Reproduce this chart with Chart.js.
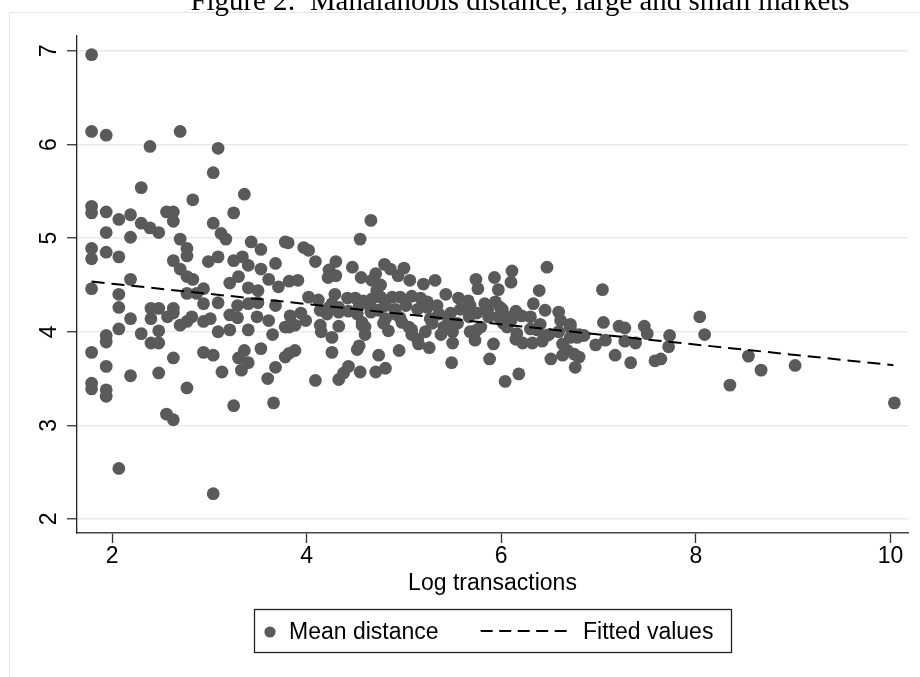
<!DOCTYPE html>
<html>
<head>
<meta charset="utf-8">
<script src="https://cdn.jsdelivr.net/npm/chart.js@4.4.1/dist/chart.umd.min.js"></script>
<style>
  html, body { margin: 0; padding: 0; background: #fff; }
  canvas { display: block; }
</style>
</head>
<body>
<canvas id="c" width="920" height="677"></canvas>
<script>
const titleText = 'Figure 2:  Mahalanobis distance, large and small markets';
const xAxisTitle = 'Log transactions';
const legendLabels = ['Mean distance', 'Fitted values'];
const xTicks = [2, 4, 6, 8, 10];
const yTicks = [2, 3, 4, 5, 6, 7];

const meanX = [
  1.79,1.79,1.79,1.79,1.79,1.79,1.79,1.79,1.79,1.79,
  1.94,1.94,1.94,1.94,1.94,1.94,1.94,1.94,1.94,
  2.07,2.07,2.07,2.07,2.07,2.07,
  2.19,2.19,2.30,2.30,2.39,2.39,2.48,2.56,2.63,2.63,2.70,2.70,2.77,2.77,2.83,2.63,2.70,
  3.04,3.09,3.04,3.12,3.17,3.25,3.36,3.43,3.53,3.68,3.78,2.99,3.09,3.25,3.34,3.40,3.53,
  2.19,2.19,2.30,2.40,2.40,2.48,2.40,2.48,2.48,2.19,2.48,2.63,2.57,2.63,2.70,2.77,2.82,2.63,2.77,2.56,2.63,3.04,
  2.77,2.83,2.77,2.87,2.94,2.94,3.09,2.94,3.01,3.09,2.94,3.04,3.13,3.21,3.30,3.40,3.50,3.50,3.29,3.21,3.29,3.40,3.49,3.21,3.40,3.61,3.65,3.53,3.36,3.30,3.40,3.33,3.60,3.68,3.78,3.25,3.66,3.61,3.71,3.68,3.82,3.78,3.83,3.88,
  3.81,3.97,4.02,4.09,4.30,4.23,4.30,4.22,3.91,4.47,4.55,4.66,4.56,4.67,4.71,4.80,4.86,5.00,4.94,5.06,4.76,4.72,5.20,5.32,5.74,5.93,5.76,5.97,
  4.02,4.12,4.29,4.26,4.42,4.50,4.58,4.67,4.76,4.88,4.96,5.08,5.17,5.24,5.43,5.56,5.66,5.83,5.94,6.01,
  3.94,3.99,3.82,3.88,4.14,4.15,4.21,4.33,4.33,4.26,4.43,4.52,4.57,4.60,4.60,4.66,4.81,4.84,4.91,4.96,5.05,5.08,5.14,5.15,5.26,5.22,5.29,5.36,5.38,5.46,5.50,5.50,5.67,5.68,5.75,5.73,5.87,5.92,5.88,5.97,6.02,
  4.26,4.52,4.54,4.74,4.95,5.49,4.09,4.33,4.38,4.43,4.55,4.71,4.81,6.04,
  6.11,6.10,6.47,6.39,5.99,6.15,6.10,6.21,6.30,6.33,6.45,6.59,6.61,6.71,6.40,6.30,6.80,6.85,6.71,6.49,6.15,6.32,6.42,6.22,6.63,6.68,6.80,6.76,6.63,6.51,6.18,
  7.04,7.05,6.97,7.07,7.17,7.21,7.27,7.27,7.38,7.33,7.47,7.50,7.58,7.64,7.73,7.72,8.04,8.09,8.54,8.67,8.35,9.02,10.04,
  5.68,5.34,6.75,6.78,
  4.14,4.23,4.33,4.54,4.66,4.74,4.81,4.91,5.02,5.14,5.24,
  4.57,4.79,4.98,5.08,3.82,
  5.48,5.58,5.75,5.86,6.06,5.27,
  5.41,5.55,5.79,6.06,6.16,6.37,6.47,6.59,6.71
];
const meanY = [
  6.96,6.14,5.34,5.27,4.89,4.78,4.46,3.78,3.45,3.39,
  6.10,5.28,5.06,4.85,3.96,3.89,3.63,3.38,3.31,
  5.20,4.80,4.40,4.26,4.03,2.54,
  5.25,5.01,5.54,5.16,5.98,5.11,5.06,5.28,5.28,5.18,6.14,4.99,4.89,4.81,5.41,4.76,4.67,
  5.70,5.96,5.16,5.05,4.99,5.27,5.47,4.96,4.88,4.73,4.96,4.75,4.80,4.76,4.80,4.71,4.67,
  4.56,4.14,3.98,4.25,4.14,4.25,3.88,4.01,3.88,3.53,3.56,4.25,4.16,4.20,4.07,4.11,4.16,3.72,3.40,3.12,3.06,2.27,
  4.59,4.56,4.41,4.41,4.46,4.30,4.31,4.11,4.14,4.00,3.78,3.75,3.57,4.52,4.59,4.47,4.44,4.31,4.28,4.18,4.15,4.30,4.16,4.02,4.02,4.12,3.97,3.82,3.80,3.72,3.67,3.59,3.50,3.62,3.73,3.21,3.24,4.56,4.48,4.28,4.54,4.05,4.17,3.80,
  4.95,4.90,4.87,4.75,4.75,4.66,4.60,4.58,4.55,4.69,4.99,5.19,4.58,4.55,4.62,4.72,4.67,4.68,4.60,4.55,4.50,4.44,4.51,4.55,4.56,4.58,4.46,4.45,
  4.37,4.34,4.40,4.30,4.36,4.36,4.33,4.35,4.37,4.37,4.37,4.38,4.36,4.32,4.40,4.36,4.33,4.30,4.32,4.24,
  4.20,4.12,4.05,4.07,4.07,4.00,4.19,4.21,4.06,3.94,4.22,4.19,4.10,4.05,3.97,4.21,4.14,4.01,4.19,4.15,4.05,3.97,3.92,3.87,3.83,4.00,4.09,4.19,3.97,4.12,3.88,4.00,4.16,4.00,4.02,3.91,4.16,3.87,3.71,4.16,4.09,
  3.78,3.81,3.85,3.75,3.80,3.67,3.48,3.49,3.56,3.63,3.57,3.57,3.61,3.47,
  4.65,4.53,4.69,4.44,4.26,4.22,4.12,4.17,4.16,4.30,4.23,4.21,4.12,4.08,4.08,4.03,3.97,3.96,3.94,3.97,3.92,3.88,3.90,3.88,3.87,3.80,3.73,3.62,3.75,3.71,3.55,
  4.45,4.10,3.86,3.91,3.75,4.06,4.04,3.90,3.88,3.67,4.06,3.98,3.69,3.71,3.96,3.84,4.16,3.97,3.74,3.59,3.43,3.64,3.24,
  4.28,4.28,3.76,3.94,
  4.23,4.26,4.26,4.28,4.26,4.23,4.28,4.24,4.28,4.24,4.26,
  4.07,4.09,4.10,4.02,3.77,
  4.20,4.24,4.20,4.23,4.16,4.14,
  4.05,4.09,4.05,4.05,3.98,4.02,3.96,4.00,4.04
];
const fitX = [1.79, 10.03];
const fitY = [4.536, 3.643];

const scatterPts = meanX.map((x, i) => ({ x: x, y: meanY[i] }));
const fitPts = fitX.map((x, i) => ({ x: x, y: fitY[i] }));

const SANS = '"Liberation Sans", Arial, Helvetica, sans-serif';
const MARK = '#5a5a5a';

const overlay = {
  id: 'overlay',
  afterDraw(chart) {
    const ctx = chart.ctx;
    const xs = chart.scales.x, ys = chart.scales.y;
    const ca = chart.chartArea;
    ctx.save();
    // outer light frame
    ctx.strokeStyle = '#e6e6e6';
    ctx.lineWidth = 1;
    ctx.beginPath();
    ctx.moveTo(9.5, 677); ctx.lineTo(9.5, 12.5); ctx.lineTo(920, 12.5);
    ctx.stroke();

    ctx.fillStyle = '#000';
    ctx.font = '23px ' + SANS;
    ctx.textAlign = 'center';
    ctx.textBaseline = 'alphabetic';
    xTicks.forEach(v => ctx.fillText(String(v), xs.getPixelForValue(v), ca.bottom + 30.3));
    yTicks.forEach(v => {
      ctx.save();
      ctx.translate(ca.left - 21.4, ys.getPixelForValue(v));
      ctx.rotate(-Math.PI / 2);
      ctx.fillText(String(v), 0, 0);
      ctx.restore();
    });
    ctx.fillText(xAxisTitle, (ca.left + ca.right) / 2, 590);

    // legend
    ctx.strokeStyle = '#222';
    ctx.lineWidth = 1.3;
    ctx.strokeRect(254.5, 609.5, 477, 43);
    ctx.fillStyle = MARK;
    ctx.beginPath(); ctx.arc(270, 632, 5.6, 0, Math.PI * 2); ctx.fill();
    ctx.fillStyle = '#000';
    ctx.textAlign = 'left';
    ctx.fillText(legendLabels[0], 289, 639.3);
    ctx.fillText(legendLabels[1], 583, 639.3);
    ctx.strokeStyle = '#000';
    ctx.lineWidth = 2;
    ctx.setLineDash([12, 6.5]);
    ctx.beginPath(); ctx.moveTo(480.7, 631); ctx.lineTo(568, 631); ctx.stroke();
    ctx.setLineDash([]);

    // title (clipped at top)
    let fs = 26;
    ctx.font = fs + 'px "Liberation Serif", "Times New Roman", serif';
    const w = ctx.measureText(titleText).width;
    fs = fs * 659 / w;
    ctx.font = fs.toFixed(2) + 'px "Liberation Serif", "Times New Roman", serif';
    ctx.textAlign = 'center';
    ctx.fillText(titleText, 520, 9.5);
    ctx.restore();
  }
};

new Chart(document.getElementById('c'), {
  type: 'scatter',
  data: {
    datasets: [
      {
        type: 'line',
        label: legendLabels[1],
        data: fitPts,
        borderColor: '#000',
        borderWidth: 2,
        borderDash: [13, 7],
        pointRadius: 0,
        fill: false,
        tension: 0
      },
      {
        label: legendLabels[0],
        data: scatterPts,
        backgroundColor: MARK,
        borderWidth: 0,
        pointRadius: 6.4,
        pointHoverRadius: 6.4
      }
    ]
  },
  options: {
    responsive: false,
    devicePixelRatio: 1,
    animation: false,
    events: [],
    layout: { padding: { top: 36, right: 12, left: 0, bottom: 0 } },
    plugins: { legend: { display: false }, tooltip: { enabled: false }, title: { display: false } },
    scales: {
      x: {
        type: 'linear',
        min: 1.64,
        max: 10.18,
        afterBuildTicks: s => { s.ticks = xTicks.map(v => ({ value: v })); },
        afterFit: s => { s.height = 144; },
        ticks: { display: false },
        grid: { drawOnChartArea: false, drawTicks: true, tickLength: 10, tickColor: '#333', tickWidth: 1.3 },
        border: { display: true, color: '#444', width: 1.5 }
      },
      y: {
        type: 'linear',
        min: 1.85,
        max: 7.16,
        afterBuildTicks: s => { s.ticks = yTicks.map(v => ({ value: v })); },
        afterFit: s => { s.width = 77; },
        ticks: { display: false },
        grid: { color: '#eaeaea', lineWidth: 1.5, drawTicks: true, tickLength: 10, tickColor: '#333', tickWidth: 1.3 },
        border: { display: true, color: '#222', width: 1.3 }
      }
    }
  },
  plugins: [overlay]
});
</script>
</body>
</html>
